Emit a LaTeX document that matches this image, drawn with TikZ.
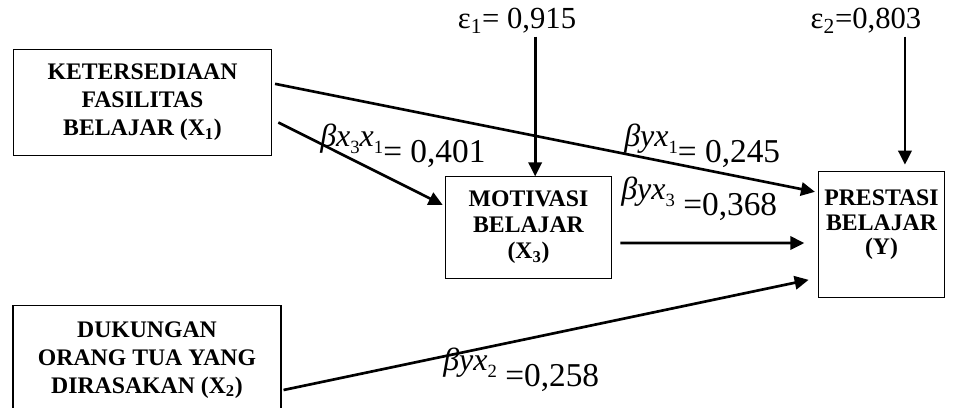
\documentclass[tikz,border=0pt]{standalone}
\usepackage{fontspec}
\setmainfont{Liberation Serif}
\usetikzlibrary{arrows.meta,positioning,calc}

\newcommand{\csub}[1]{\raisebox{-5.5pt}{\upshape\fontsize{14}{14}\selectfont #1}}
\newcommand{\coefsym}[1]{\raisebox{12pt}{\fontsize{24}{26}\selectfont\itshape #1}}

\begin{document}
\begin{tikzpicture}[x=0.75pt,y=-0.75pt,
  box/.style={draw, line width=0.8pt, align=center, inner sep=0pt, font=\fontsize{17.8}{21}\selectfont\bfseries},
  arr/.style={-{Triangle[length=10.5pt,width=10pt]}, line width=2pt},
  coef/.style={inner sep=0pt, anchor=base west, font=\fontsize{25}{28}\selectfont},
  err/.style={inner sep=2pt, font=\fontsize{23}{26}\selectfont}
]
\useasboundingbox (0,0) rectangle (973,407);
\node[box, minimum width=194pt, minimum height=79pt] (x1) at (142.5,102.5) {KETERSEDIAAN\\FASILITAS\\BELAJAR (X\textsubscript{1})};
\node[box, minimum width=201pt, minimum height=82pt] (x2) at (147,360) {DUKUNGAN\\ORANG TUA YANG\\DIRASAKAN (X\textsubscript{2})};
\node[box, minimum width=125pt, minimum height=76pt, font=\fontsize{17.8}{19.5}\selectfont\bfseries] (x3) at (528.5,227.5) {MOTIVASI\\BELAJAR\\(X\textsubscript{3})};
\node[box, minimum width=95pt, minimum height=94pt, font=\fontsize{17.8}{18.5}\selectfont\bfseries] (y) at (881.5,234.5) {PRESTASI\\BELAJAR\\(Y)\\\mbox{}};
\node[err] (e1) at (517,21) {ε\textsubscript{1}= 0,915};
\node[err] (e2) at (866,21) {ε\textsubscript{2}=0,803};
\draw[arr] ([shift={(2pt,14pt)}]x1.east) -- ([shift={(-2pt,32pt)}]y.west);
\draw[arr] ([shift={(4.5pt,-15pt)}]x1.east) -- ([shift={(-1.5pt,17pt)}]x3.west);
\draw[arr] ([shift={(6pt,-11.6pt)}]x3.east) -- ([shift={(-10pt,-6.4pt)}]y.west);
\draw[arr] ([shift={(1.5pt,-22.5pt)}]x2.east) -- ([shift={(-6.75pt,-34pt)}]y.west);
\draw[arr] ([xshift=5pt]x3.north |- e1.south) -- ([xshift=5pt]x3.north);
\draw[arr] ([xshift=17.6pt]y.north |- e2.south) -- ([shift={(17.6pt,5pt)}]y.north);
\node[coef] (b31) at (320,162) {\coefsym{βx\csub{3}x\csub{1}}= 0,401};
\node[coef] (by1) at (624,162) {\coefsym{βyx\csub{1}}= 0,245};
\node[coef] (by3) at (621,215) {\coefsym{βyx\csub{3}} =0,368};
\node[coef] (by2) at (443,386) {\coefsym{βyx\csub{2}} =0,258};
\end{tikzpicture}
\end{document}
